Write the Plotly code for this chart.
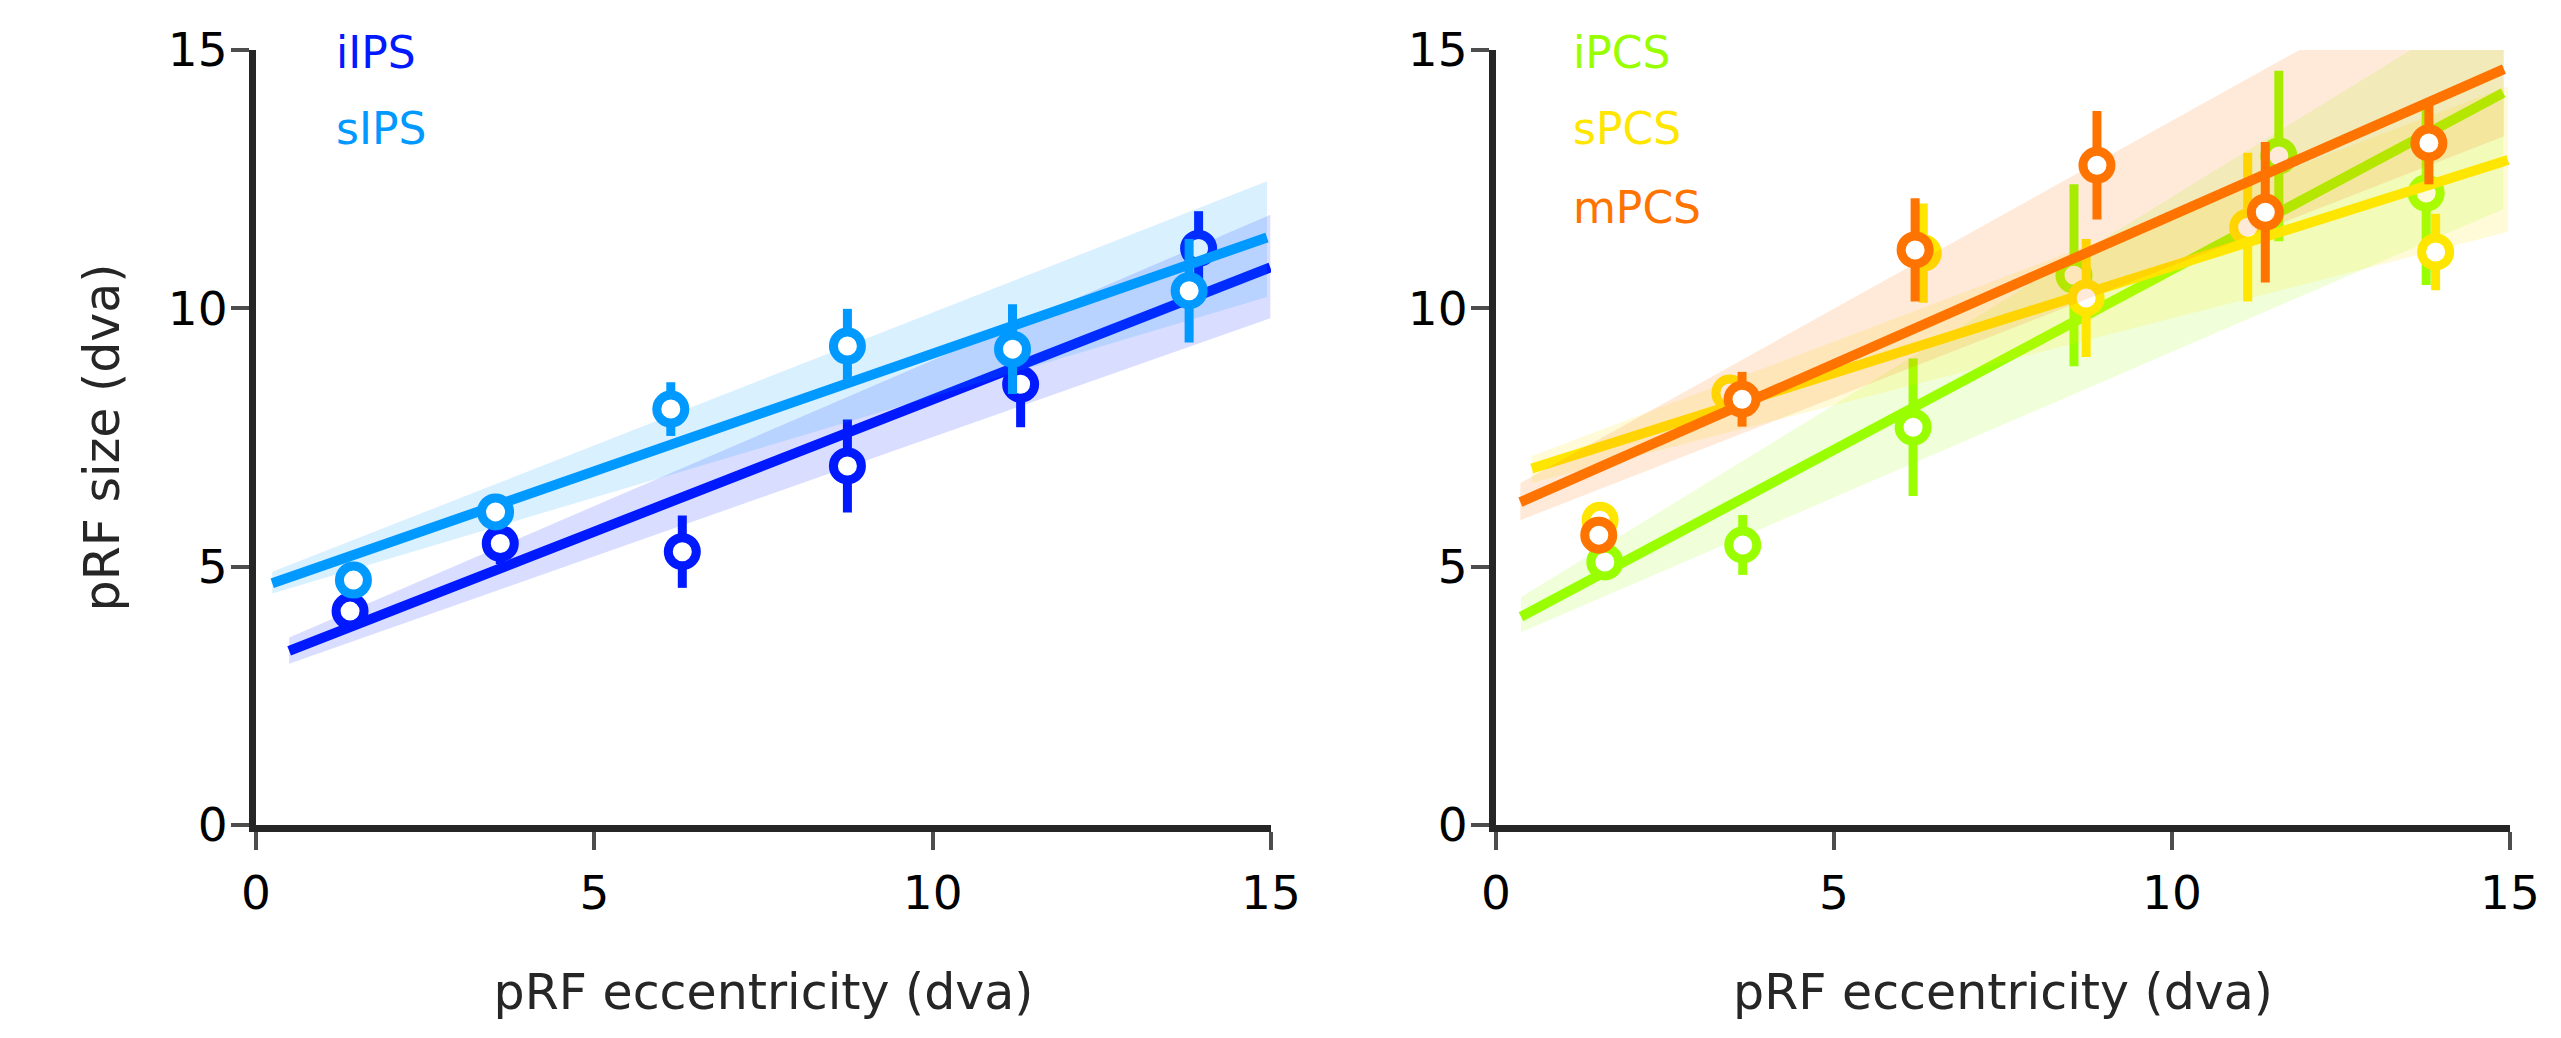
import plotly.graph_objects as go

# ---- data ----
# left panel: IPS
ecc_iips = [1.39, 3.61, 6.30, 8.74, 11.30, 13.93]
size_iips = [4.14, 5.45, 5.29, 6.95, 8.53, 11.16]
err_iips = [0.25, 0.40, 0.70, 0.90, 0.83, 0.72]
fit_x_iips = [0.49, 14.99]
fit_y_iips = [3.37, 10.79]
band_lo_iips = [3.12, 9.81]
band_hi_iips = [3.63, 11.81]

ecc_sips = [1.44, 3.54, 6.13, 8.74, 11.18, 13.79]
size_sips = [4.74, 6.06, 8.05, 9.27, 9.21, 10.34]
err_sips = [0.20, 0.25, 0.52, 0.72, 0.87, 1.00]
fit_x_sips = [0.24, 14.94]
fit_y_sips = [4.68, 11.37]
band_lo_sips = [4.48, 10.22]
band_hi_sips = [4.90, 12.46]

# right panel: PCS
ecc_ipcs = [1.61, 3.65, 6.17, 8.55, 11.58, 13.76]
size_ipcs = [5.09, 5.42, 7.70, 10.64, 12.95, 12.23]
err_ipcs = [0.25, 0.58, 1.33, 1.76, 1.65, 1.78]
fit_x_ipcs = [0.37, 14.90]
fit_y_ipcs = [4.03, 14.17]
band_lo_ipcs = [3.73, 11.92]
band_hi_ipcs = [4.41, 16.10]

ecc_spcs = [1.54, 3.46, 6.32, 8.73, 11.12, 13.90]
size_spcs = [5.90, 8.36, 11.07, 10.20, 11.57, 11.09]
err_spcs = [0.20, 0.25, 0.96, 1.14, 1.44, 0.74]
fit_x_spcs = [0.53, 14.97]
fit_y_spcs = [6.90, 12.87]
band_lo_spcs = [6.62, 11.48]
band_hi_spcs = [7.14, 14.30]

ecc_mpcs = [1.52, 3.64, 6.20, 8.89, 11.38, 13.80]
size_mpcs = [5.61, 8.24, 11.13, 12.77, 11.86, 13.20]
err_mpcs = [0.20, 0.53, 1.00, 1.05, 1.36, 0.80]
fit_x_mpcs = [0.36, 14.91]
fit_y_mpcs = [6.25, 14.63]
band_lo_mpcs = [5.90, 13.33]
band_hi_mpcs = [6.62, 17.20]

axis_ticks = [0, 5, 10, 15]

# page has an 8px body margin, so the figure is a bit smaller than the window
PAD = 8
W, H = 2561 - 2 * PAD, 1038 - 2 * PAD
FONT = "DejaVu Sans"


def fx_(px):
    return (px - PAD) / W


def fy_(py):
    return 1 - (py - PAD) / H


def rgba(hex_color, alpha):
    h = hex_color.lstrip("#")
    r, g, b = int(h[0:2], 16), int(h[2:4], 16), int(h[4:6], 16)
    return f"rgba({r},{g},{b},{alpha})"


def add_series(fig, xa, ya, color, ecc, size, err, fx, fy, lo, hi):
    """Band, fit line and points for one region, in that drawing order."""
    fig.add_trace(go.Scatter(
        x=fx + fx[::-1], y=lo + hi[::-1],
        fill="toself", fillcolor=rgba(color, 0.15),
        line=dict(width=0), mode="lines", hoverinfo="skip",
        xaxis=xa, yaxis=ya, showlegend=False))
    fig.add_trace(go.Scatter(
        x=fx, y=fy, mode="lines",
        line=dict(color=color, width=10),
        xaxis=xa, yaxis=ya, showlegend=False))
    fig.add_trace(go.Scatter(
        x=ecc, y=size, mode="markers",
        marker=dict(symbol="circle", size=28, color="white",
                    line=dict(color=color, width=9)),
        error_y=dict(type="data", array=err, color=color,
                     thickness=9, width=0),
        xaxis=xa, yaxis=ya, showlegend=False))


fig = go.Figure()

add_series(fig, "x", "y", "#0019ff", ecc_iips, size_iips, err_iips,
           fit_x_iips, fit_y_iips, band_lo_iips, band_hi_iips)
add_series(fig, "x", "y", "#0099ff", ecc_sips, size_sips, err_sips,
           fit_x_sips, fit_y_sips, band_lo_sips, band_hi_sips)

add_series(fig, "x2", "y2", "#99ff00", ecc_ipcs, size_ipcs, err_ipcs,
           fit_x_ipcs, fit_y_ipcs, band_lo_ipcs, band_hi_ipcs)
add_series(fig, "x2", "y2", "#ffe600", ecc_spcs, size_spcs, err_spcs,
           fit_x_spcs, fit_y_spcs, band_lo_spcs, band_hi_spcs)
add_series(fig, "x2", "y2", "#ff7300", ecc_mpcs, size_mpcs, err_mpcs,
           fit_x_mpcs, fit_y_mpcs, band_lo_mpcs, band_hi_mpcs)

axis_style = dict(
    range=[0, 15], tickvals=axis_ticks, showgrid=False, zeroline=False,
    showline=True, linewidth=7, linecolor="#262626",
    ticks="outside", ticklen=18, tickwidth=4, tickcolor="#4d4d4d",
    tickfont=dict(family=FONT, size=47, color="black"),
    automargin=False,
)
title_font = dict(family=FONT, size=49, color="#262626")

x_title = dict(text="pRF eccentricity (dva)", font=title_font, standoff=58)
y_dom = [fy_(825), fy_(50)]

fig.update_layout(
    width=W, height=H, autosize=False,
    margin=dict(l=0, r=0, t=0, b=0),
    plot_bgcolor="white", paper_bgcolor="white",
    font=dict(family=FONT),
    xaxis=dict(axis_style, domain=[fx_(256), fx_(1271)], anchor="y",
               title=x_title, ticklabelstandoff=3),
    yaxis=dict(axis_style, domain=y_dom, anchor="x", ticklabelstandoff=-6,
               title=dict(text="pRF size (dva)", font=title_font, standoff=35)),
    xaxis2=dict(axis_style, domain=[fx_(1496), fx_(2510)], anchor="y2",
                title=x_title, ticklabelstandoff=3),
    yaxis2=dict(axis_style, domain=y_dom, anchor="x2", ticklabelstandoff=-6),
)

# coloured region labels in place of a legend
labels = [
    ("iIPS", "#0019ff", 334, 52),
    ("sIPS", "#0099ff", 334, 129),
    ("iPCS", "#99ff00", 1571, 52),
    ("sPCS", "#ffe600", 1571, 129),
    ("mPCS", "#ff7300", 1571, 207),
]
for text, color, px, py in labels:
    fig.add_annotation(
        text=text, xref="paper", yref="paper", x=fx_(px), y=fy_(py),
        xanchor="left", yanchor="middle", showarrow=False,
        font=dict(family=FONT, size=44, color=color))

fig.write_html("out.html")
